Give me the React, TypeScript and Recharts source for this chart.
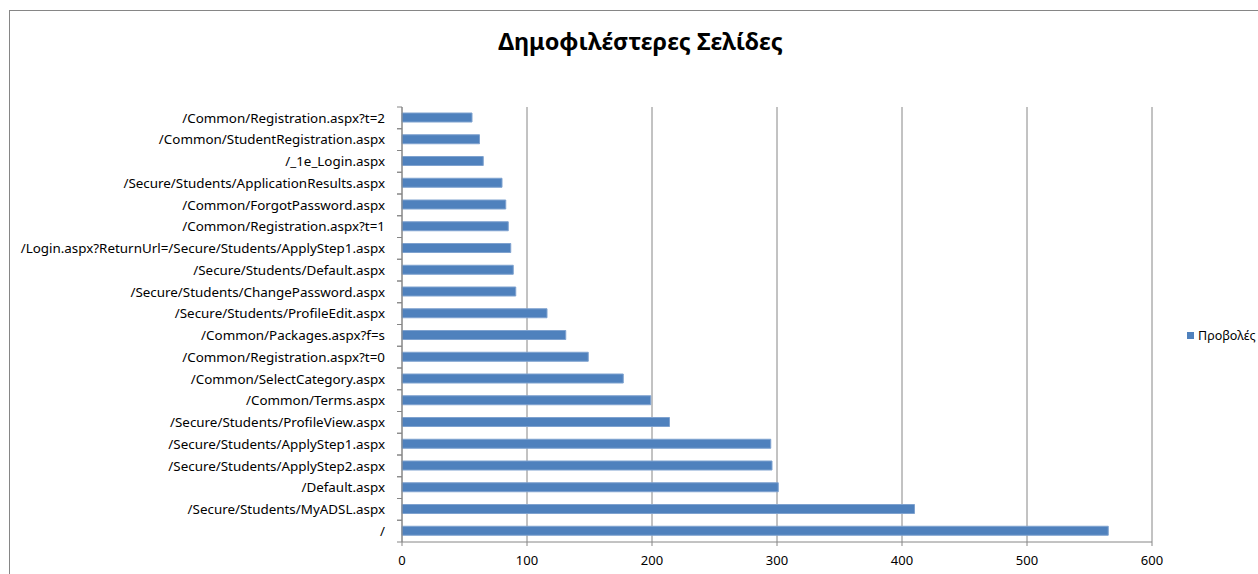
import { Bar, BarChart, CartesianGrid, XAxis, YAxis } from "recharts";

const pages = [
  "/Common/Registration.aspx?t=2",
  "/Common/StudentRegistration.aspx",
  "/_1e_Login.aspx",
  "/Secure/Students/ApplicationResults.aspx",
  "/Common/ForgotPassword.aspx",
  "/Common/Registration.aspx?t=1",
  "/Login.aspx?ReturnUrl=/Secure/Students/ApplyStep1.aspx",
  "/Secure/Students/Default.aspx",
  "/Secure/Students/ChangePassword.aspx",
  "/Secure/Students/ProfileEdit.aspx",
  "/Common/Packages.aspx?f=s",
  "/Common/Registration.aspx?t=0",
  "/Common/SelectCategory.aspx",
  "/Common/Terms.aspx",
  "/Secure/Students/ProfileView.aspx",
  "/Secure/Students/ApplyStep1.aspx",
  "/Secure/Students/ApplyStep2.aspx",
  "/Default.aspx",
  "/Secure/Students/MyADSL.aspx",
  "/",
];

const views = [56, 62, 65, 80, 83, 85, 87, 89, 91, 116, 131, 149, 177, 199, 214, 295, 296, 301, 410, 565];

const xTicks = [0, 100, 200, 300, 400, 500, 600];

const data = pages.map((page, i) => ({ page, views: views[i] }));

const GRID = "#868686";
const BAR = "#4F81BD";
const FONT = "'Noto Sans', sans-serif";
const BAND = 435 / pages.length;

// category tick: label right-aligned, Excel-style tick marks on the band edges
function PageTick({ x, y, payload }: { x?: number; y?: number; payload?: { value: string } }) {
  const px = x ?? 0;
  const py = y ?? 0;
  return (
    <g>
      <line x1={px - 5} x2={px} y1={py - BAND / 2} y2={py - BAND / 2} stroke={GRID} />
      <line x1={px - 5} x2={px} y1={py + BAND / 2} y2={py + BAND / 2} stroke={GRID} />
      <text x={px - 17} y={py} dy="0.35em" textAnchor="end" fill="#000" fontSize={13.4} fontFamily={FONT}>
        {payload?.value}
      </text>
    </g>
  );
}

export default function App() {
  return (
    <div style={{ position: "fixed", left: 0, top: 0, width: 1258, height: 574, overflow: "hidden", background: "#fff" }}>
      <div
        style={{
          position: "absolute",
          left: 9,
          top: 10,
          width: 1300,
          height: 600,
          border: `1px solid ${GRID}`,
          background: "#fff",
        }}
      >
        <div
          style={{
            position: "absolute",
            left: 0,
            width: 1261,
            top: 14,
            textAlign: "center",
            fontFamily: FONT,
            fontWeight: 700,
            fontSize: 23.5,
            color: "#000",
          }}
        >
          Δημοφιλέστερες Σελίδες
        </div>
        <BarChart
          layout="vertical"
          width={1248}
          height={561}
          data={data}
          margin={{ top: 96, right: 106, bottom: 0, left: 0 }}
          barSize={9}
        >
          <CartesianGrid horizontal={false} stroke={GRID} />
          <XAxis
            type="number"
            domain={[0, 600]}
            ticks={xTicks}
            interval={0}
            height={30}
            stroke={GRID}
            tickSize={4}
            tickMargin={10}
            tick={{ fill: "#000", fontSize: 13, fontFamily: FONT }}
          />
          <YAxis
            type="category"
            dataKey="page"
            width={392}
            interval={0}
            stroke={GRID}
            tickLine={false}
            tickSize={0}
            tickMargin={0}
            tick={<PageTick />}
          />
          <Bar dataKey="views" fill={BAR} stroke="#7FA2CF" strokeWidth={1} isAnimationActive={false} />
        </BarChart>
        <div
          style={{
            position: "absolute",
            left: 1177,
            top: 316,
            display: "flex",
            alignItems: "center",
            fontFamily: FONT,
            fontSize: 12.5,
            color: "#000",
          }}
        >
          <span style={{ width: 7, height: 7, background: BAR, marginRight: 4, display: "inline-block" }} />
          Προβολές
        </div>
      </div>
    </div>
  );
}
